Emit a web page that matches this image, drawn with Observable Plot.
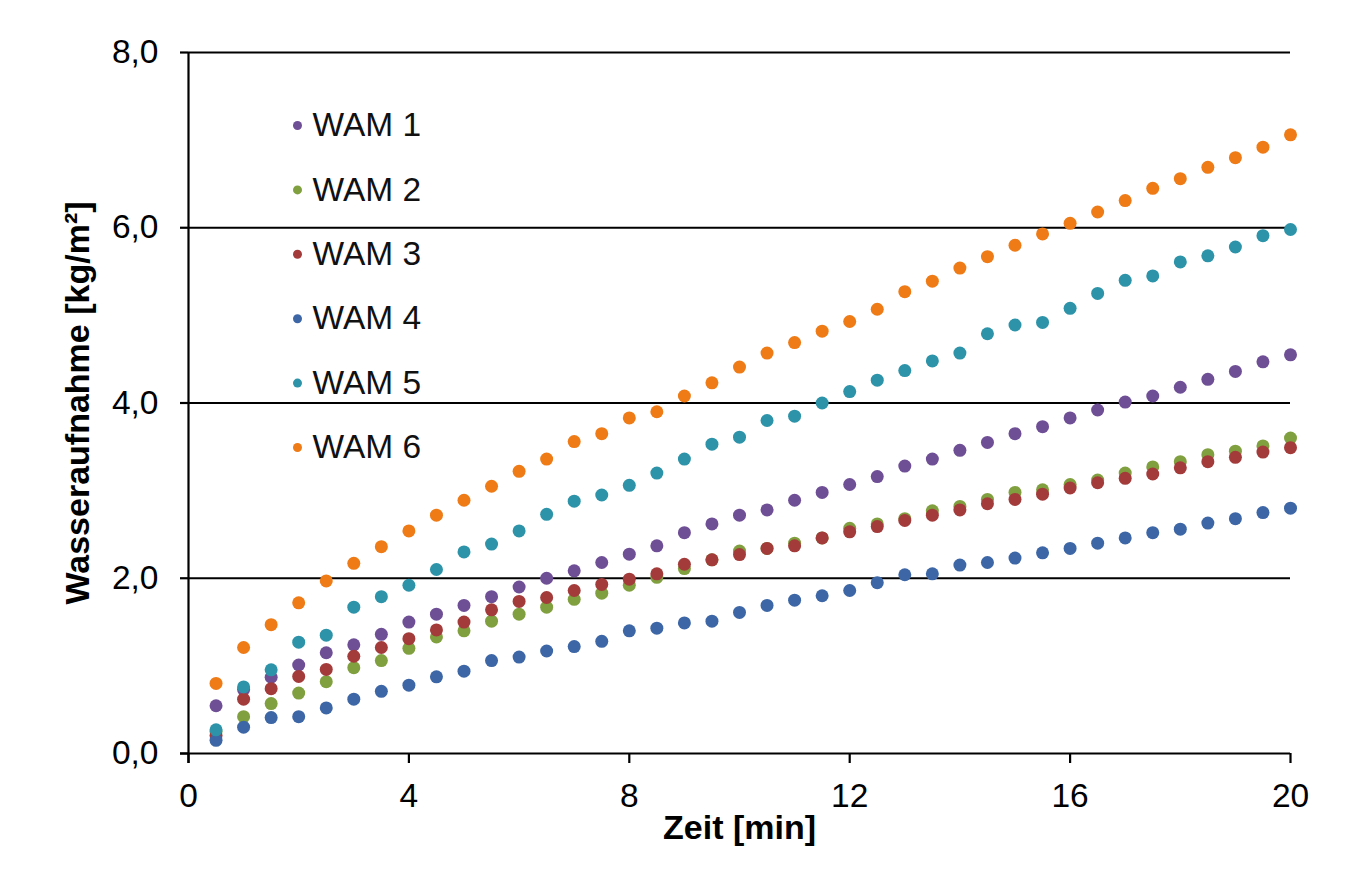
<!DOCTYPE html>
<html><head><meta charset="utf-8">
<script src="https://cdn.jsdelivr.net/npm/d3@7"></script>
<script src="https://cdn.jsdelivr.net/npm/@observablehq/plot@0.6"></script>
<style>body{margin:0;background:#fff;} #chart{width:1354px;}</style>
</head><body><div id="chart"></div>
<script>
const times = [0.5,1,1.5,2,2.5,3,3.5,4,4.5,5,5.5,6,6.5,7,7.5,8,8.5,9,9.5,10,10.5,11,11.5,12,12.5,13,13.5,14,14.5,15,15.5,16,16.5,17,17.5,18,18.5,19,19.5,20];
const series = ["WAM 1","WAM 2","WAM 3","WAM 4","WAM 5","WAM 6"];
const wam1 = [0.545,0.73,0.87,1.01,1.15,1.24,1.36,1.50,1.59,1.69,1.79,1.90,2.00,2.085,2.18,2.275,2.37,2.52,2.62,2.72,2.78,2.89,2.98,3.07,3.16,3.28,3.36,3.46,3.55,3.65,3.73,3.83,3.92,4.01,4.08,4.18,4.27,4.36,4.47,4.55];
const wam2 = [0.25,0.42,0.57,0.69,0.82,0.98,1.06,1.20,1.33,1.40,1.51,1.59,1.67,1.76,1.83,1.92,2.01,2.11,2.21,2.31,2.34,2.40,2.46,2.57,2.62,2.68,2.77,2.82,2.90,2.98,3.01,3.07,3.12,3.20,3.27,3.33,3.41,3.45,3.51,3.60];
const wam3 = [0.205,0.62,0.74,0.88,0.96,1.11,1.21,1.31,1.41,1.50,1.64,1.735,1.78,1.86,1.93,1.99,2.05,2.16,2.21,2.27,2.34,2.37,2.46,2.53,2.59,2.66,2.72,2.78,2.85,2.90,2.96,3.03,3.09,3.14,3.19,3.26,3.33,3.38,3.44,3.49];
const wam4 = [0.15,0.30,0.41,0.42,0.52,0.62,0.71,0.78,0.875,0.94,1.06,1.10,1.17,1.22,1.28,1.40,1.43,1.49,1.51,1.61,1.69,1.75,1.80,1.86,1.95,2.04,2.05,2.15,2.18,2.23,2.29,2.34,2.40,2.46,2.52,2.56,2.63,2.68,2.75,2.80];
const wam5 = [0.27,0.76,0.955,1.27,1.35,1.67,1.79,1.92,2.10,2.30,2.39,2.54,2.73,2.88,2.95,3.06,3.20,3.36,3.53,3.61,3.80,3.85,4.00,4.13,4.26,4.37,4.48,4.57,4.79,4.89,4.92,5.08,5.25,5.40,5.45,5.61,5.68,5.78,5.91,5.98];
const wam6 = [0.80,1.21,1.47,1.72,1.97,2.17,2.36,2.54,2.72,2.89,3.05,3.22,3.36,3.56,3.65,3.83,3.90,4.08,4.23,4.41,4.57,4.69,4.82,4.93,5.07,5.27,5.39,5.54,5.67,5.80,5.93,6.05,6.18,6.31,6.45,6.56,6.69,6.80,6.92,7.06];
const colors = ["#6e4e95","#80a03f","#a33b3b","#3c66a5","#2c93a8","#ee7b16"];
const xTicks = [0,4,8,12,16,20];
const yTicks = [0,2,4,6,8];
const gridY = [2,4,6,8];
const xTitle = "Zeit [min]";
const yTitle = "Wasseraufnahme [kg/m²]";

const values = [wam1,wam2,wam3,wam4,wam5,wam6];
const data = series.flatMap((s,i) => times.map((t,j) => ({series:s, t, v: values[i][j]})));

const font = "'Liberation Sans', Arial, sans-serif";
const legendMarks = series.flatMap((s,i) => [
  Plot.dot([s], {frameAnchor:"top-left", dx:109, dy:73 + i*64.4, r:4.5, fill: colors[i]}),
  Plot.text([s], {frameAnchor:"top-left", dx:124, dy:73 + i*64.4, text:d=>d, textAnchor:"start", lineAnchor:"middle", fontSize:33.5, fill:"#111"})
]);

const chart = Plot.plot({
  width: 1354, height: 873,
  marginLeft: 188, marginRight: 64, marginTop: 52, marginBottom: 120,
  style: {fontFamily: font, color: "black", background: "white", overflow: "visible"},
  x: {domain: [0,20]},
  y: {domain: [0,8]},
  color: {domain: series, range: colors},
  marks: [
    Plot.ruleY(gridY, {stroke:"black", strokeWidth:2.2}),
    Plot.ruleY([0], {stroke:"black", strokeWidth:2.2, insetLeft:-8}),
    Plot.ruleX([0], {stroke:"black", strokeWidth:2.2, insetBottom:-10}),
    Plot.axisY({ticks: yTicks, tickSize: 8, tickPadding: 22, strokeWidth: 2.2, fontSize: 33.5, tickFormat: d => d.toFixed(1).replace(".", ","), label: null}),
    Plot.axisX({ticks: xTicks, tickSize: 10, tickPadding: 20, strokeWidth: 2.2, fontSize: 33.5, label: null}),
    Plot.dot(data, {x:"t", y:"v", fill:"series", r:6.5}),
    ...legendMarks,
    Plot.text([xTitle], {frameAnchor:"bottom", dy:75, lineAnchor:"middle", text:d=>d, fontSize:34, fontWeight:"bold"}),
    Plot.text([yTitle], {frameAnchor:"left", dx:-110, rotate:-90, textAnchor:"middle", lineAnchor:"middle", text:d=>d, fontSize:34, fontWeight:"bold"})
  ]
});
document.getElementById("chart").appendChild(chart);
</script>
</body></html>
